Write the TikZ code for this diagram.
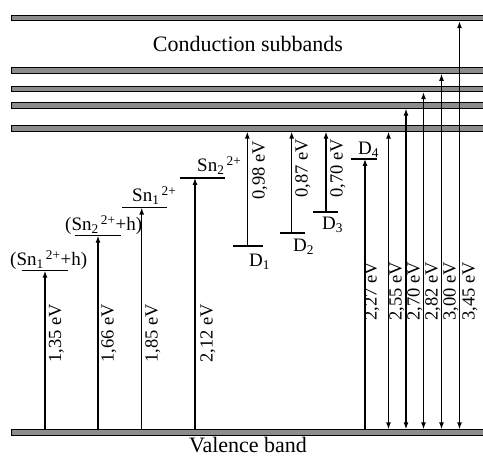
\documentclass[tikz,border=0pt]{standalone}
\usepackage{fontspec}
\setmainfont{Liberation Serif}
\usetikzlibrary{arrows.meta}
\newcommand{\snion}[1]{Sn\textsubscript{#1}\textsuperscript{\,2+}}
\begin{document}
\begin{tikzpicture}[x=1pt,y=-1pt,
  band/.style={draw=black, fill=black!45, line width=0.9pt, inner sep=0pt, minimum height=5.5pt, minimum width=490pt, anchor=west},
  lvl/.style={line width=1.3pt},
  arr/.style={line width=1.1pt, -{Latex[length=7pt,width=5pt]}},
  darr/.style={line width=1.1pt, {Latex[length=7pt,width=5pt]}-{Latex[length=7pt,width=5pt]}},
  big/.style={font=\fontsize{22}{26}\selectfont, inner sep=0pt, anchor=base},
  lab/.style={font=\fontsize{19}{22}\selectfont, inner sep=0pt, anchor=base west},
  elab/.style={font=\fontsize{18.5}{22}\selectfont, rotate=90, inner sep=0pt}]
\useasboundingbox (0,0) rectangle (483,457);

% bands
\node[band] (cb1) at (11,18) {};
\node[band] (cb2) at (11,70.7) {};
\node[band] (cb3) at (11,89) {};
\node[band] (cb4) at (11,105.5) {};
\node[band] (cb5) at (11,128.5) {};
\node[band] (vb) at (11,432.5) {};
\node[big] (ct) at (248,51.5) {Conduction subbands};
\node[big] (vt) at (248,453) {Valence band};

% levels
\draw[lvl] (22,270.7) coordinate (l1) -- (68,270.7);
\draw[lvl] (75,235.7) coordinate (l2) -- (121,235.7);
\draw[lvl] (122,207.7) coordinate (l3) -- (167,207.7);
\draw[lvl] (180,178) coordinate (l4) -- (225,178);
\draw[lvl] (233,246) coordinate (d1) -- (263,246);
\draw[lvl] (280,233) coordinate (d2) -- (305,233);
\draw[lvl] (313,212) coordinate (d3) -- (338,212);
\draw[lvl] (351,159) coordinate (d4) -- (377,159);

% level labels
\node[lab] (t1) at (10,266) {(\snion{1}+h)};
\node[lab] (t2) at (65,230.5) {(\snion{2}+h)};
\node[lab] (t3) at (132,201.5) {\snion{1}};
\node[lab] (t4) at (197,172) {\snion{2}};
\node[lab] (td1) at (249,266.7) {D\textsubscript{1}};
\node[lab] (td2) at (293,251.7) {D\textsubscript{2}};
\node[lab] (td3) at (322,230) {D\textsubscript{3}};
\node[lab] (td4) at (358,155) {D\textsubscript{4}};

% arrows from valence band to levels
\draw[arr] (45,0 |- vb.north) -- (45,0 |- l1);
\draw[arr] (98,0 |- vb.north) -- (98,0 |- l2);
\draw[arr] (141.7,0 |- vb.north) -- (141.7,0 |- l3);
\draw[arr] (195,0 |- vb.north) -- (195,0 |- l4);
% donor to conduction
\draw[arr] (247.3,0 |- d1) -- (247.3,0 |- cb5.south);
\draw[arr] (291.7,0 |- d2) -- (291.7,0 |- cb5.south);
\draw[arr] (326,0 |- d3) -- (326,0 |- cb5.south);
\draw[arr] (365,0 |- vb.north) -- (365,0 |- d4);
% band to band
\draw[darr] (388.5,0 |- vb.north) -- (388.5,0 |- cb5.south);
\draw[darr] (406,0 |- vb.north) -- (406,0 |- cb4.south);
\draw[darr] (423.5,0 |- vb.north) -- (423.5,0 |- cb3.south);
\draw[darr] (441.5,0 |- vb.north) -- (441.5,0 |- cb2.south);
\draw[darr] (459.5,0 |- vb.north) -- (459.5,0 |- cb1.south);

% energy labels
\node[elab] (e1) at (56.5,333.5) {1,35 eV};
\node[elab] (e2) at (109,333.5) {1,66 eV};
\node[elab] (e3) at (153,333.5) {1,85 eV};
\node[elab] (e4) at (208,333.5) {2,12 eV};
\node[elab] (e5) at (260,170) {0,98 eV};
\node[elab] (e6) at (303,168) {0,87 eV};
\node[elab] (e7) at (338,168) {0,70 eV};
\node[elab] (e8) at (372,291.5) {2,27 eV};
\node[elab] (e9) at (397,291.5) {2,55 eV};
\node[elab] (e10) at (415,291.5) {2,70 eV};
\node[elab] (e11) at (433,291.5) {2,82 eV};
\node[elab] (e12) at (451,291.5) {3,00 eV};
\node[elab] (e13) at (470,291.5) {3,45 eV};
\end{tikzpicture}
\end{document}
